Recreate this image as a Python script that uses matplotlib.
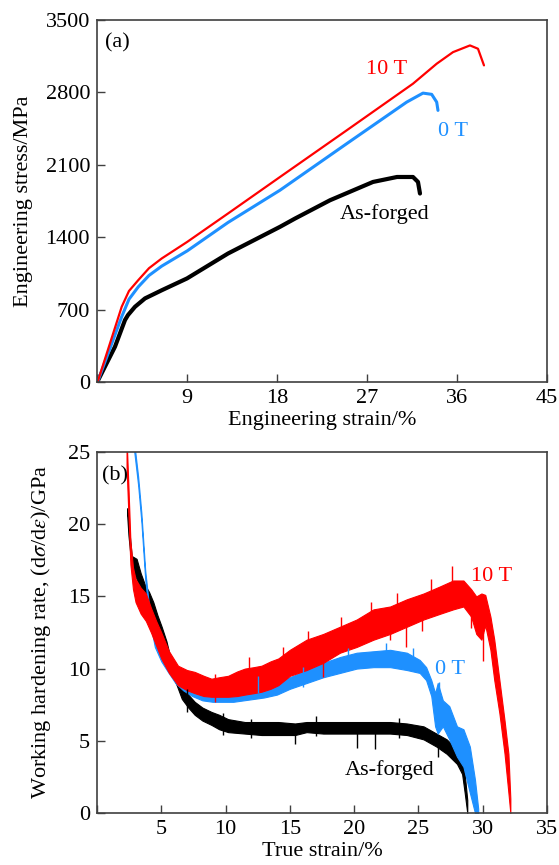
import matplotlib
matplotlib.use("Agg")
import matplotlib.pyplot as plt

plt.rcParams['font.family'] = ['Liberation Serif', 'DejaVu Serif']
plt.rcParams['mathtext.fontset'] = 'stix'

RED = '#FF0000'
BLUE = '#1E90FF'
BLACK = '#000000'

# ---- (a) engineering stress-strain ----
forged_x = [0.0, 0.13, 1.8, 2.8, 3.1, 3.8, 4.8, 6.5, 9.0, 13.1, 18.3, 19.8, 23.3, 27.6, 30.0, 31.6, 32.1, 32.3]
forged_y = [0, 20, 341, 599, 647, 727, 808, 888, 1001, 1242, 1500, 1580, 1757, 1934, 1982, 1982, 1934, 1822]

t0_x = [0.0, 0.13, 2.47, 3.2, 4.13, 5.2, 6.47, 9.03, 13.1, 18.3, 24.97, 30.97, 32.6, 33.47, 33.97, 34.1]
t0_y = [0, 20, 631, 800, 920, 1030, 1120, 1268, 1542, 1854, 2304, 2706, 2793, 2781, 2706, 2626]

t10_x = [0.0, 0.13, 2.47, 3.2, 4.13, 5.2, 6.47, 9.03, 13.1, 18.3, 24.97, 31.6, 33.97, 35.6, 37.3, 38.1, 38.7]
t10_y = [0, 20, 727, 880, 985, 1100, 1194, 1355, 1629, 1982, 2433, 2884, 3077, 3189, 3254, 3222, 3061]

# ---- (b) work hardening rate: lower / upper edge of the noisy band ----
wf_x = [2.35, 2.45, 2.7, 3.08, 3.4, 3.73, 4.05, 4.38, 4.7, 5.03, 5.4, 5.8, 6.2, 6.6, 7.1, 7.6, 8.2, 8.9,
        9.5, 10.2, 11.5, 12.8, 14.1, 15.4, 16.3, 17.6, 18.9, 20.2, 21.5, 22.8, 24.1, 25.4, 26.4, 27.2,
        28.0, 28.4, 28.6, 28.8]
wf_lo = [20.6, 19.2, 17.0, 16.2, 15.5, 14.8, 14.1, 13.2, 12.6, 12.0, 10.8, 9.6, 8.85, 7.9, 7.3, 6.8, 6.4, 6.1,
         5.8, 5.6, 5.5, 5.4, 5.4, 5.4, 5.6, 5.5, 5.5, 5.5, 5.5, 5.5, 5.4, 5.1, 4.6, 4.1,
         3.4, 2.7, 1.4, 0.0]
wf_hi = [21.1, 20.2, 17.8, 17.6, 16.6, 15.8, 15.3, 14.6, 13.7, 12.9, 11.9, 10.4, 9.5, 8.85, 8.2, 7.7, 7.3, 7.0,
         6.8, 6.5, 6.3, 6.3, 6.3, 6.2, 6.3, 6.3, 6.3, 6.3, 6.3, 6.3, 6.2, 6.0, 5.5, 5.1,
         4.4, 3.7, 2.7, 0.9]

w0_x = [2.9, 3.2, 3.45, 3.75, 4.1, 4.5, 5.0, 5.5, 6.1, 6.7, 7.4, 8.2, 9.0, 9.8, 10.6, 11.4, 12.2, 13.0,
        14.0, 15.0, 16.3, 17.6, 18.9, 20.2, 21.5, 22.8, 24.1, 25.1, 25.6, 26.0, 26.3, 26.5, 26.9,
        27.4, 28.0, 28.5, 29.0, 29.4, 29.65]
w0_lo = [25.0, 22.7, 20.2, 16.2, 13.3, 11.5, 10.5, 9.8, 9.0, 8.5, 8.1, 7.8, 7.7, 7.7, 7.7, 7.8, 7.9, 8.0,
         8.2, 8.6, 9.0, 9.4, 9.7, 10.0, 10.1, 10.1, 9.9, 9.7, 9.2, 8.1, 6.0, 5.5, 6.0,
         5.1, 3.9, 3.2, 1.4, 0.0, 0.0]
w0_hi = [25.6, 23.3, 20.8, 16.8, 13.9, 12.1, 11.2, 10.5, 10.0, 9.7, 9.3, 9.1, 8.9, 8.8, 8.8, 8.9, 9.0, 9.2,
         9.3, 9.4, 9.9, 10.4, 10.8, 11.1, 11.2, 11.3, 11.1, 10.6, 10.1, 9.2, 8.3, 9.0, 7.8,
         7.4, 6.0, 5.8, 4.6, 2.3, 0.3]

w10_x = [2.3, 2.45, 2.6, 2.8, 3.0, 3.4, 3.8, 4.2, 4.6, 5.0, 5.6, 6.3, 7.0, 7.6, 8.3, 8.9, 9.5, 10.2,
         10.9, 11.5, 12.2, 12.8, 13.5, 14.1, 15.0, 16.3, 17.6, 18.9, 20.2, 21.5, 22.8, 24.1, 25.4,
         26.7, 27.7, 28.5, 29.1, 29.5, 29.9, 30.2, 30.6, 30.9, 31.3, 31.7, 32.0, 32.15]
w10_lo = [24.0, 20.5, 17.2, 15.5, 14.6, 13.8, 13.3, 12.5, 11.6, 10.7, 9.7, 8.85, 8.5, 8.3, 8.1, 8.05, 8.05, 8.05,
          8.1, 8.2, 8.3, 8.4, 8.6, 8.85, 9.5, 9.9, 10.4, 11.1, 11.5, 12.0, 12.4, 12.9, 13.4,
          13.8, 14.1, 14.3, 13.6, 12.4, 12.0, 13.0, 11.3, 9.2, 6.9, 4.1, 1.4, 0.0]
w10_hi = [26.0, 22.5, 18.8, 17.0, 16.2, 15.6, 15.2, 14.2, 13.3, 12.5, 11.2, 10.2, 9.9, 9.77, 9.5, 9.3, 9.4, 9.5,
          9.8, 10.0, 10.1, 10.2, 10.5, 10.7, 11.3, 12.0, 12.4, 12.9, 13.4, 14.1, 14.3, 14.8, 15.2,
          15.7, 16.1, 16.1, 15.5, 15.0, 15.2, 15.1, 13.6, 12.0, 9.2, 6.4, 4.1, 1.0]

# isolated spikes in the noisy records
sp10_x = [9.2, 11.8, 14.5, 16.4, 17.6, 19.0, 21.3, 22.8, 23.3, 24.0, 25.3, 26.0, 27.6, 29.1, 30.0]
sp10_lo = [7.7, 9.0, 9.5, 10.8, 9.4, 12.0, 13.2, 12.0, 13.5, 11.5, 12.6, 14.5, 15.5, 12.8, 10.5]
sp10_hi = [9.6, 10.8, 11.5, 12.6, 11.0, 13.6, 14.6, 13.5, 15.2, 13.5, 14.0, 16.2, 17.1, 14.5, 12.5]
sp0_x = [12.5, 16.0, 19.5, 22.5, 24.6, 26.6]
sp0_lo = [8.3, 8.7, 10.2, 10.7, 10.0, 7.5]
sp0_hi = [9.5, 10.1, 11.4, 11.8, 11.4, 9.1]
spf_x = [7.0, 9.8, 12.0, 15.4, 17.0, 20.2, 21.6, 23.5, 26.5]
spf_lo = [7.0, 5.4, 5.2, 4.8, 5.3, 4.5, 4.4, 5.2, 3.9]
spf_hi = [8.6, 6.9, 6.5, 5.8, 6.7, 5.8, 5.8, 6.6, 5.0]

fig = plt.figure(figsize=(5.59, 8.65), dpi=100)
ax1 = fig.add_axes([0.1735, 0.5584, 0.805, 0.4185])
ax2 = fig.add_axes([0.1735, 0.0601, 0.805, 0.4174])

FS = 16

ax1.plot(forged_x, forged_y, color=BLACK, lw=3.0, solid_capstyle='round')
ax1.plot(t0_x, t0_y, color=BLUE, lw=2.2, solid_capstyle='round')
ax1.plot(t10_x, t10_y, color=RED, lw=1.6, solid_capstyle='round')
ax1.set_xlim(0, 45)
ax1.set_ylim(0, 3500)
ax1.set_xticks([0, 9, 18, 27, 36, 45])
ax1.set_xticklabels(['', '9', '18', '27', '36', '45'])
ax1.set_yticks([0, 700, 1400, 2100, 2800, 3500])
ax1.set_xlabel('Engineering strain/%', fontsize=FS, labelpad=2)
ax1.set_ylabel('Engineering stress/MPa', fontsize=FS)
ax1.yaxis.set_label_coords(-0.142, 0.5)
ax1.text(0.8, 3237, '(a)', fontsize=FS, va='baseline')
ax1.text(26.9, 2980, '10 T', fontsize=FS, color=RED, va='baseline')
ax1.text(34.1, 2375, '0 T', fontsize=FS, color=BLUE, va='baseline')
ax1.text(24.3, 1580, 'As-forged', fontsize=FS, color=BLACK, va='baseline')

ax2.fill_between(wf_x, wf_lo, wf_hi, color=BLACK, lw=0.8)
ax2.vlines(spf_x, spf_lo, spf_hi, color=BLACK, lw=1.0)
ax2.fill_between(w0_x, w0_lo, w0_hi, color=BLUE, lw=0.8)
ax2.vlines(sp0_x, sp0_lo, sp0_hi, color=BLUE, lw=1.0)
ax2.fill_between(w10_x, w10_lo, w10_hi, color=RED, lw=0.8)
ax2.vlines(sp10_x, sp10_lo, sp10_hi, color=RED, lw=1.0)
ax2.set_xlim(0, 35)
ax2.set_ylim(0, 25)
ax2.set_xticks([0, 5, 10, 15, 20, 25, 30, 35])
ax2.set_xticklabels(['', '5', '10', '15', '20', '25', '30', '35'])
ax2.set_yticks([0, 5, 10, 15, 20, 25])
ax2.set_xlabel('True strain/%', fontsize=FS, labelpad=2)
ax2.set_ylabel(r'Working hardening rate, (d$\sigma$/d$\varepsilon$)/GPa', fontsize=FS)
ax2.yaxis.set_label_coords(-0.098, 0.5)
ax2.text(0.37, 23.04, '(b)', fontsize=FS, va='baseline')
ax2.text(29.1, 16.07, '10 T', fontsize=FS, color=RED, va='baseline')
ax2.text(26.3, 9.6, '0 T', fontsize=FS, color=BLUE, va='baseline')
ax2.text(19.3, 2.63, 'As-forged', fontsize=FS, color=BLACK, va='baseline')

for ax in (ax1, ax2):
    for s in ax.spines.values():
        s.set_color('#404040')
        s.set_linewidth(1.2)
    ax.tick_params(direction='in', length=6, width=1.0, color='#404040',
                   labelsize=FS, top=False, right=False, pad=5)

fig.savefig('out.png', dpi=100)
